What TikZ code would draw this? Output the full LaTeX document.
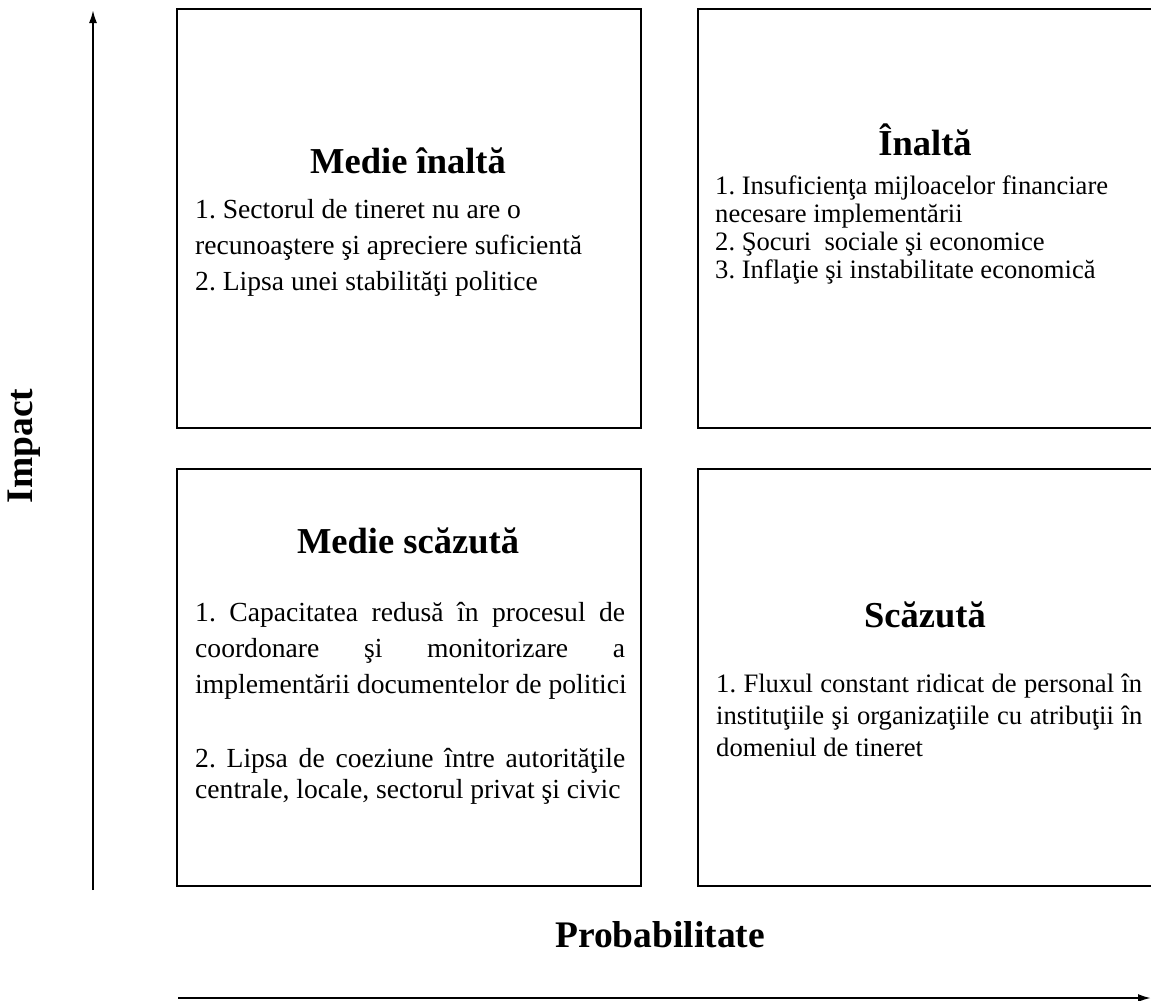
\documentclass[tikz,border=0pt]{standalone}
\usepackage{fontspec}
\setmainfont{Liberation Serif}
\usetikzlibrary{arrows.meta}
\frenchspacing
\tikzset{
  box/.style={draw=black, line width=2pt, inner sep=0pt, anchor=north west},
  ttl/.style={font=\fontsize{36.5}{44}\selectfont\bfseries, inner sep=0pt, anchor=base},
  bodytxt/.style={font=\fontsize{26.6}{32}\selectfont, inner sep=0pt, anchor=base west},
  bodyL/.style={bodytxt, font=\fontsize{27.6}{36}\selectfont},
  axlabel/.style={font=\fontsize{37.5}{44}\selectfont\bfseries, inner sep=0pt},
  axisline/.style={line width=2pt, -{Latex[length=13pt,width=8pt]}}
}
\newcommand{\jline}[2]{\makebox[#1][s]{#2}}
\begin{document}
\begin{tikzpicture}[x=1pt,y=-1pt]
\fill[white] (0,0) rectangle (1151,1001);
\useasboundingbox (0,0) rectangle (1151,1001);

% boxes
\node[box, minimum width=464pt, minimum height=419pt] (bTL) at (176,8) {};
\node[box, minimum width=456pt, minimum height=419pt] (bTR) at (697,8) {};
\node[box, minimum width=464pt, minimum height=417pt] (bBL) at (176,468) {};
\node[box, minimum width=456pt, minimum height=417pt] (bBR) at (697,468) {};

% top left
\node[ttl] (tTL) at (408,173) {Medie înaltă};
\node[bodyL] (tl1) at (195,218) {1. Sectorul de tineret nu are o};
\node[bodyL] (tl2) at (195,254) {recunoaştere şi apreciere suficientă};
\node[bodyL] (tl3) at (195,290) {2. Lipsa unei stabilităţi politice};

% top right
\node[ttl] (tTR) at (925,155) {Înaltă};
\node[bodytxt] (tr1) at (715,194) {1. Insuficienţa mijloacelor financiare};
\node[bodytxt] (tr2) at (715,222) {necesare implementării};
\node[bodytxt] (tr3) at (715,250) {2. Şocuri \ sociale şi economice};
\node[bodytxt] (tr4) at (715,278) {3. Inflaţie şi instabilitate economică};

% bottom left
\node[ttl] (tBL) at (408,553) {Medie scăzută};
\node[bodyL] (bl1) at (195,621) {\jline{430pt}{1. Capacitatea redusă în procesul de}};
\node[bodyL] (bl2) at (195,657) {\jline{430pt}{coordonare şi monitorizare a}};
\node[bodyL] (bl3) at (195,693) {implementării documentelor de politici};
\node[bodyL] (bl4) at (195,767) {\jline{430pt}{2. Lipsa de coeziune între autorităţile}};
\node[bodyL] (bl5) at (195,798) {centrale, locale, sectorul privat şi civic};

% bottom right
\node[ttl] (tBR) at (925,627) {Scăzută};
\node[bodytxt] (br1) at (716,692) {\jline{426pt}{1. Fluxul constant ridicat de personal în}};
\node[bodytxt] (br2) at (716,724) {\jline{426pt}{instituţiile şi organizaţiile cu atribuţii în}};
\node[bodytxt] (br3) at (716,756) {domeniul de tineret};

% axes
\coordinate (vb) at (93,890);
\coordinate (vt) at (93,10);
\draw[axisline] (vb) -- (vt);
\coordinate (hb) at (178,998);
\coordinate (ht) at (1151,998);
\draw[axisline] (hb) -- (ht);

\node[axlabel, rotate=90] (impact) at (24,446) {Impact};
\node[axlabel] (prob) at (660,935) {Probabilitate};
\end{tikzpicture}
\end{document}
